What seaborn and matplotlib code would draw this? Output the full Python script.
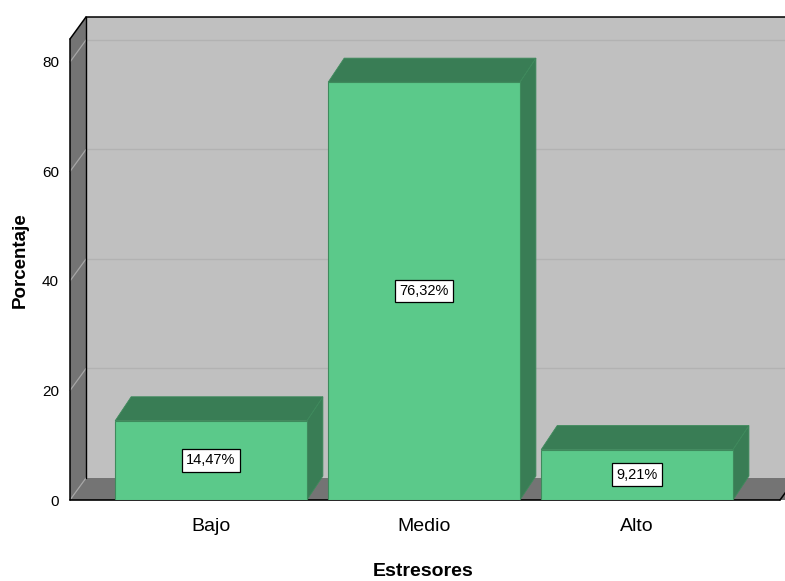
import matplotlib
matplotlib.use("Agg")
import matplotlib.pyplot as plt
import seaborn as sns
import pandas as pd
import numpy as np
from matplotlib.patches import Polygon
from matplotlib.lines import Line2D
from matplotlib.transforms import IdentityTransform

# Data
categories = ["Bajo", "Medio", "Alto"]
percentages = [14.47, 76.32, 9.21]
bar_labels = ["14,47%", "76,32%", "9,21%"]
y_ticks = [0, 20, 40, 60, 80]

# Colours
FRONT = "#5BC98A"
SHADE = "#397D55"
EDGE = "#3E8A5C"
BACK_WALL = "#C0C0C0"
SIDE_WALL = "#747474"
GRID_BACK = "#B2B2B2"
GRID_SIDE = "#A6A6A6"

sns.set_style("white")
plt.rcParams["font.family"] = ["Liberation Sans", "DejaVu Sans"]
plt.rcParams["text.color"] = "black"
plt.rcParams["xtick.color"] = "black"
plt.rcParams["ytick.color"] = "black"

W, H = 785, 581
fig = plt.figure(figsize=(W / 100, H / 100), dpi=100)
ax = fig.add_axes([70 / W, 81 / H, 710 / W, 461 / H])

df = pd.DataFrame({"Estresores": categories, "Porcentaje": percentages})
sns.barplot(data=df, x="Estresores", y="Porcentaje", color=FRONT,
            saturation=1, width=0.9, ax=ax, edgecolor=EDGE, linewidth=0.8)

XMIN, XMAX = -0.662, 2.671
YMAX = 84.2
ax.set_xlim(XMIN, XMAX)
ax.set_ylim(0, YMAX)

ID = IdentityTransform()
WALL_DX, WALL_DY = 16, 22
BAR_DX, BAR_DY = 16, 24


def disp(x, y):
    return np.array(ax.transData.transform((x, y)))


def poly(pts, color, z, ec="none", lw=0.0):
    p = Polygon(pts, closed=True, transform=ID, facecolor=color,
                edgecolor=ec, linewidth=lw, clip_on=False, zorder=z)
    ax.add_artist(p)


def line(p0, p1, color, z, lw=1.0):
    ax.add_artist(Line2D([p0[0], p1[0]], [p0[1], p1[1]], transform=ID,
                         color=color, linewidth=lw, clip_on=False, zorder=z))


off_w = np.array([WALL_DX, WALL_DY])
fl0 = disp(XMIN, 0)
fl1 = disp(XMIN, YMAX)
fr0 = disp(XMAX, 0)
far_right = W + 40

# Back wall
bl0 = fl0 + off_w
bl1 = fl1 + off_w
poly([bl0, (far_right, bl0[1]), (far_right, bl1[1]), bl1], BACK_WALL, 0.5)

# Gridlines on the back wall
for t in y_ticks:
    b = disp(XMIN, t) + off_w
    if t > 0:
        line(b, (far_right, b[1]), GRID_BACK, 0.7, 1.0)

# Left wall and floor
poly([fl0, fl1, bl1, bl0], SIDE_WALL, 0.8)
poly([fl0, (far_right, fl0[1]), (far_right + WALL_DX, bl0[1]), bl0], SIDE_WALL, 0.8)

# Gridlines running across the left wall
for t in y_ticks:
    f = disp(XMIN, t)
    line(f, f + off_w, GRID_SIDE, 0.9, 0.9)

# Frame edges
line(fl0, fl1, "black", 1.0, 1.1)
line(fl1, bl1, "black", 1.0, 1.1)
line(bl1, (far_right, bl1[1]), "black", 1.0, 1.1)
line(bl0, bl1, "black", 1.0, 1.0)
line(fl0, fr0, "black", 1.0, 1.2)
line(fr0, fr0 + off_w, "black", 1.0, 1.1)

# 3D bar tops and sides, plus value labels
off_b = np.array([BAR_DX, BAR_DY])
for patch, label in zip(ax.patches, bar_labels):
    patch.set_zorder(3)
    x0 = patch.get_x()
    w = patch.get_width()
    h = patch.get_height()
    a1 = disp(x0 + w, 0)
    t0 = disp(x0, h)
    t1 = disp(x0 + w, h)
    poly([a1, t1, t1 + off_b, a1 + off_b], SHADE, 2.5, ec=EDGE, lw=0.6)
    poly([t0, t1, t1 + off_b, t0 + off_b], SHADE, 2.5, ec=EDGE, lw=0.6)
    ax.text(x0 + w / 2, h / 2, label, ha="center", va="center",
            fontsize=10.5, color="black", zorder=6,
            bbox=dict(boxstyle="square,pad=0.3", facecolor="white",
                      edgecolor="black", linewidth=0.9))

# Axes decorations
for s in ax.spines.values():
    s.set_visible(False)
ax.patch.set_visible(False)
ax.set_yticks(y_ticks)
ax.set_yticklabels([str(t) for t in y_ticks])
ax.tick_params(axis="y", length=0, pad=8, labelsize=11)
ax.tick_params(axis="x", length=0, pad=13, labelsize=14)
ax.set_xlabel("")
ax.set_ylabel("")
ax.set_xlim(XMIN, XMAX)
ax.set_ylim(0, YMAX)

fig.text(423 / W, 1 - 571 / H, "Estresores", ha="center", va="center",
         fontsize=14, fontweight="bold")
fig.text(20 / W, 1 - 260 / H, "Porcentaje", ha="center", va="center",
         rotation=90, fontsize=13.5, fontweight="bold")

fig.savefig("out.png", dpi=100, facecolor="white")
